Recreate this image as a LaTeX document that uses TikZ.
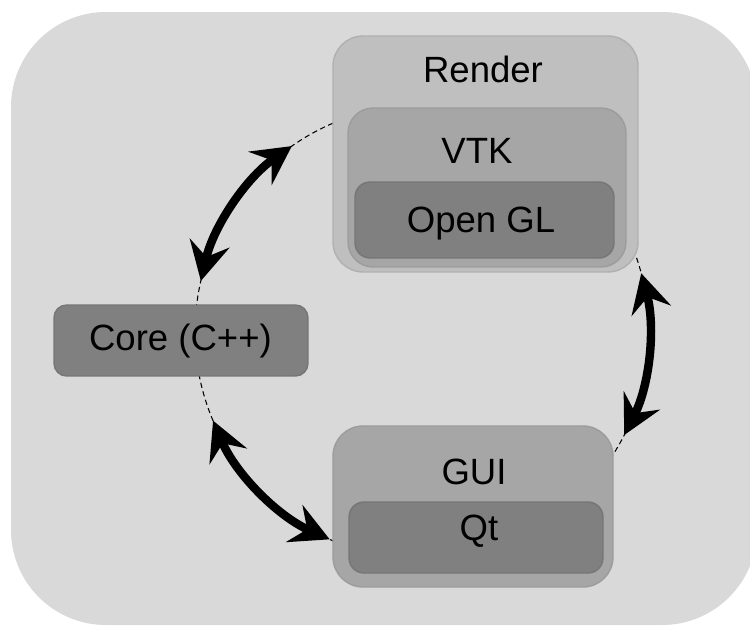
\documentclass[tikz,border=0pt]{standalone}
\usepackage{fontspec}
\setmainfont{Liberation Sans}
\usetikzlibrary{arrows.meta}

\definecolor{bggray}{RGB}{217,217,217}
\definecolor{lightbox}{RGB}{191,191,191}
\definecolor{midbox}{RGB}{166,166,166}
\definecolor{darkbox}{RGB}{128,128,128}

\begin{document}
\begin{tikzpicture}[x=0.02cm, y=0.02cm,
    box/.style={rectangle, inner sep=0pt, outer sep=0pt, line width=0.8pt},
    lbl/.style={font=\fontsize{20.8}{25}\selectfont, anchor=base, inner sep=0pt},
    link/.style={line width=4.8pt, {Stealth[length=22pt, width=23pt, inset=8pt]}-{Stealth[length=22pt, width=23pt, inset=8pt]}}
  ]
    \useasboundingbox (0,0) rectangle (750,627);
    \fill[bggray, rounded corners=1.9cm] (11,2) rectangle (757,615);

    % the loop behind the boxes
    \node[circle, draw, line width=0.6pt, dash pattern=on 3pt off 2pt,
          minimum size=9.08cm, inner sep=0pt, outer sep=0pt] (ring) at (422,295) {};

    \node[box, fill=lightbox, draw=lightbox!92!black, rounded corners=0.6cm,
          minimum width=6.1cm, minimum height=4.72cm] (render) at (485.5,473) {};
    \node[box, fill=midbox, draw=midbox!94!black, rounded corners=0.5cm,
          minimum width=5.56cm, minimum height=3.18cm] (vtk) at (487,439.5) {};
    \node[box, fill=darkbox, draw=darkbox!92!black, rounded corners=0.3cm,
          minimum width=5.18cm, minimum height=1.52cm] (opengl) at (484.5,407) {};

    \node[box, fill=darkbox, draw=darkbox!92!black, rounded corners=0.25cm,
          minimum width=5.08cm, minimum height=1.42cm] (core) at (181,286.5) {};

    \node[box, fill=midbox, draw=midbox!94!black, rounded corners=0.6cm,
          minimum width=5.6cm, minimum height=3.22cm] (gui) at (473,120.5) {};
    \node[box, fill=darkbox, draw=darkbox!92!black, rounded corners=0.3cm,
          minimum width=5.08cm, minimum height=1.42cm] (qt) at (476,89.5) {};

    \node[lbl] (render-txt) at (483,545) {Render};
    \node[lbl] (vtk-txt)    at (477,464) {VTK};
    \node[lbl] (opengl-txt) at (481,395) {Open GL};
    \node[lbl] (core-txt)   at (180.5,277) {Core (C++)};
    \node[lbl] (gui-txt)    at (474,143) {GUI};
    \node[lbl] (qt-txt)     at (479,87) {Qt};

    \foreach \a/\b in {125/167, 203/246, 333/375}
      \draw[link] (ring.\a) arc[start angle=\a, end angle=\b, radius=4.54cm];
\end{tikzpicture}
\end{document}
